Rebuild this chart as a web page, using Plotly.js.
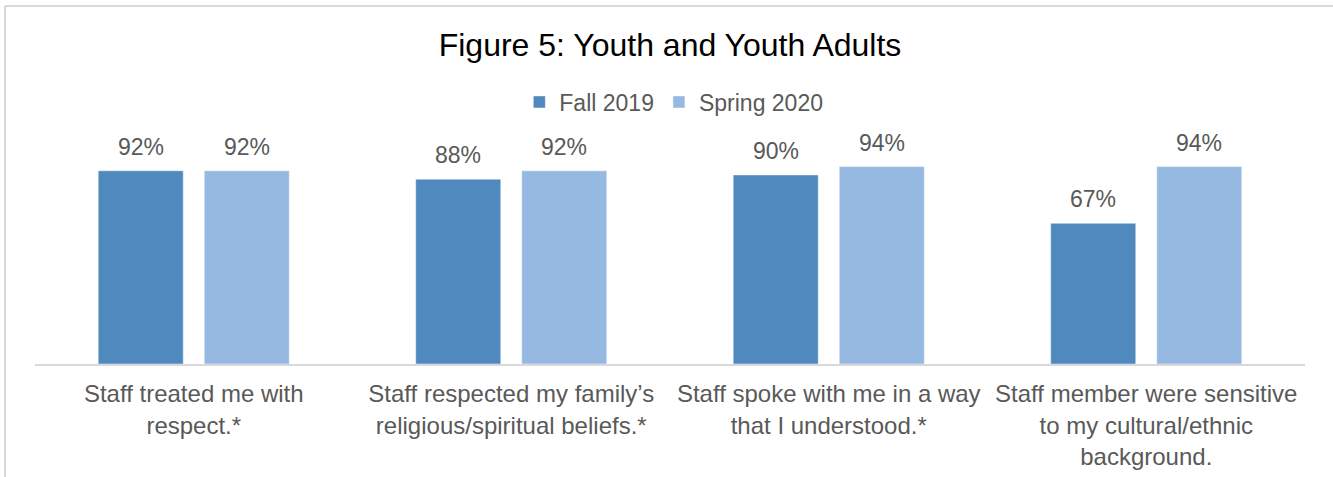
<!DOCTYPE html>
<html>
<head>
<meta charset="utf-8">
<script src="https://cdn.plot.ly/plotly-3.0.1.min.js"></script>
<style>
  html, body { margin: 0; padding: 0; background: #ffffff; overflow: hidden; }
  #wrap { position: relative; width: 1333px; height: 477px; overflow: hidden; }
  #chart { position: absolute; left: 0; top: 0; width: 1333px; height: 477px; }
</style>
</head>
<body>
<div id="wrap">
  <div id="chart"></div>
</div>
<script>
const categories = [
  "Staff treated me with<br>respect.*",
  "Staff respected my family’s<br>religious/spiritual beliefs.*",
  "Staff spoke with me in a way<br>that I understood.*",
  "Staff member were sensitive<br>to my cultural/ethnic<br>background."
];
const seriesNames = ["Fall 2019", "Spring 2020"];
const fall2019 = [92, 88, 90, 67];
const spring2020 = [92, 92, 94, 94];
const colors = ["#4F89BD", "#95B9E0"];
const FONT = "Arial, 'Liberation Sans', sans-serif";
const TXT = "#595959";

const xIdx = categories.map((c, i) => i);

const traces = [fall2019, spring2020].map((vals, k) => ({
  type: "bar",
  name: seriesNames[k],
  x: xIdx,
  y: vals,
  marker: { color: colors[k], line: { color: "rgba(255,255,255,0.45)", width: 1 } },
  hoverinfo: "skip"
}));

const bargap = 0.332, bargroupgap = 0.198;
const slot = (1 - bargap) / 2;
const annotations = [];
[fall2019, spring2020].forEach((vals, k) => {
  const off = (k === 0 ? -1 : 1) * slot / 2;
  vals.forEach((v, i) => {
    annotations.push({
      x: i + off, y: v, xref: "x", yref: "y",
      text: v + "%", showarrow: false,
      yanchor: "bottom", xanchor: "center", yshift: 9,
      font: { family: FONT, size: 23, color: TXT }
    });
  });
});

const layout = {
  width: 1333, height: 477,
  margin: { l: 35, r: 28, t: 154, b: 113 },
  paper_bgcolor: "#ffffff",
  plot_bgcolor: "rgba(0,0,0,0)",
  font: { family: FONT, color: TXT, size: 24 },
  title: {
    text: "Figure 5: Youth and Youth Adults",
    font: { family: FONT, size: 32, color: "#000000" },
    x: 0.5, xanchor: "center", xref: "paper",
    y: 1 - 45 / 477, yanchor: "middle", yref: "container"
  },
  barmode: "group",
  bargap: bargap,
  bargroupgap: bargroupgap,
  showlegend: true,
  legend: {
    orientation: "h", x: 0.503, xanchor: "center", xref: "paper",
    y: 1 - 102 / 477, yanchor: "middle", yref: "container",
    font: { family: FONT, size: 23, color: TXT },
    itemwidth: 30, traceorder: "normal"
  },
  xaxis: {
    type: "linear",
    tickmode: "array", tickvals: xIdx, ticktext: categories,
    range: [-0.5, categories.length - 0.5],
    showline: true, linecolor: "#d9d9d9", linewidth: 1.5,
    showgrid: false, zeroline: false,
    ticks: "outside", ticklen: 8, tickcolor: "rgba(0,0,0,0)",
    tickfont: { family: FONT, size: 24, color: TXT }
  },
  yaxis: {
    range: [0, 100], visible: false, showgrid: false, zeroline: false, fixedrange: true
  },
  shapes: [
    { type: "line", xref: "paper", yref: "paper",
      x0: -30 / 1270, x1: -30 / 1270, y0: 1 + 148 / 210, y1: -113 / 210 - 0.1,
      line: { color: "#d9d9d9", width: 2 } },
    { type: "line", xref: "paper", yref: "paper",
      x0: -30 / 1270, x1: 1 + 40 / 1270, y0: 1 + 148 / 210, y1: 1 + 148 / 210,
      line: { color: "#d9d9d9", width: 2 } }
  ],
  annotations: annotations
};

Plotly.newPlot("chart", traces, layout, { staticPlot: true, displayModeBar: false });
</script>
</body>
</html>
